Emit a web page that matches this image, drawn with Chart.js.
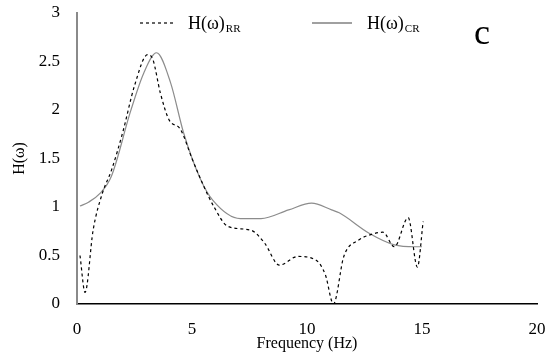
<!DOCTYPE html>
<html><head><meta charset="utf-8">
<script src="https://cdn.jsdelivr.net/npm/chart.js@4.4.0/dist/chart.umd.min.js"></script>
<style>html,body{margin:0;padding:0;background:#fff}#wrap{width:547px;height:360px}</style>
</head><body><div id="wrap"><canvas id="c" width="547" height="360"></canvas></div>
<script>
const freqRR = [0.13, 0.35, 0.7, 1.1, 1.5, 2.0, 2.5, 3.07, 3.3, 3.63, 4.0, 4.5, 5.0, 5.5, 5.96, 6.56, 7.57, 8.15, 8.8, 9.6, 10.4, 10.8, 11.15, 11.6, 12.25, 12.7, 13.3, 13.8, 14.4, 14.8, 15.05];
const valRR  = [0.50, 0.12, 0.76, 1.14, 1.38, 1.78, 2.25, 2.57, 2.52, 2.17, 1.90, 1.80, 1.50, 1.22, 1.00, 0.80, 0.76, 0.63, 0.40, 0.49, 0.45, 0.30, 0.00, 0.49, 0.66, 0.71, 0.74, 0.59, 0.89, 0.38, 0.85];
const freqCR = [0.13, 0.5, 1.0, 1.5, 2.32, 2.9, 3.46, 4.07, 4.64, 5.38, 5.9, 7.1, 8.0, 9.2, 10.2, 11.07, 11.4, 12.7, 13.8, 14.7, 15.0];
const valCR  = [1.01, 1.05, 1.14, 1.32, 1.98, 2.38, 2.59, 2.28, 1.76, 1.28, 1.07, 0.88, 0.88, 0.97, 1.04, 0.97, 0.94, 0.73, 0.61, 0.59, 0.59];
const xTicks = [0, 5, 10, 15, 20];
const yTicks = [0, 0.5, 1, 1.5, 2, 2.5, 3];
const seriesNames = ['H(ω)', 'H(ω)'];
const seriesSubs = ['RR', 'CR'];
const panelLabel = 'c';
const xTitle = 'Frequency (Hz)';
const yTitle = 'H(ω)';

const FONT = "'Liberation Serif', 'Times New Roman', serif";

const legendPlugin = {
  id: 'customLegend',
  afterDraw(chart) {
    const ctx = chart.ctx;
    ctx.save();
    const items = [
      {x1: 140, x2: 174, tx: 188, dash: [3, 3], color: '#000', w: 1.2},
      {x1: 312, x2: 352, tx: 367, dash: [], color: '#a0a0a0', w: 2}
    ];
    items.forEach((it, i) => {
      ctx.beginPath();
      ctx.setLineDash(it.dash);
      ctx.strokeStyle = it.color;
      ctx.lineWidth = it.w;
      ctx.moveTo(it.x1, 23);
      ctx.lineTo(it.x2, 23);
      ctx.stroke();
      ctx.setLineDash([]);
      ctx.fillStyle = '#000';
      ctx.textBaseline = 'alphabetic';
      ctx.textAlign = 'left';
      ctx.font = '18px ' + FONT;
      ctx.fillText(seriesNames[i], it.tx, 29);
      const w = ctx.measureText(seriesNames[i]).width;
      ctx.font = '11px ' + FONT;
      ctx.fillText(seriesSubs[i], it.tx + w + 1, 32);
    });
    ctx.font = '36px ' + FONT;
    ctx.fillText(panelLabel, 474, 44);
    ctx.restore();
  }
};

new Chart(document.getElementById('c'), {
  type: 'line',
  data: {
    datasets: [
      {
        label: seriesNames[0] + seriesSubs[0],
        data: freqRR.map((x, i) => ({x: x, y: valRR[i]})),
        borderColor: '#000', borderWidth: 1.2, borderDash: [3, 3],
        pointRadius: 0, cubicInterpolationMode: 'monotone', fill: false
      },
      {
        label: seriesNames[1] + seriesSubs[1],
        data: freqCR.map((x, i) => ({x: x, y: valCR[i]})),
        borderColor: '#8c8c8c', borderWidth: 1.2,
        pointRadius: 0, cubicInterpolationMode: 'monotone', fill: false
      }
    ]
  },
  options: {
    responsive: false, animation: false,
    layout: {padding: {left: 0, right: 10, top: 13, bottom: 0}},
    plugins: {legend: {display: false}, tooltip: {enabled: false}},
    scales: {
      x: {
        type: 'linear', min: 0, max: 20,
        afterBuildTicks: s => { s.ticks = xTicks.map(v => ({value: v})); },
        afterFit: s => { s.height = 56; s.paddingLeft = 0; s.paddingRight = 0; },
        grid: {display: true, drawOnChartArea: false, drawTicks: true, tickLength: 15, color: 'rgba(0,0,0,0)', tickColor: 'rgba(0,0,0,0)'},
        border: {display: true, color: '#000', width: 1.5},
        ticks: {color: '#000', padding: 0, font: {family: FONT, size: 17}, callback: v => String(v)},
        title: {display: true, text: xTitle, color: '#000', font: {family: FONT, size: 16}, padding: {top: 0, bottom: 7}}
      },
      y: {
        min: 0, max: 3,
        afterBuildTicks: s => { s.ticks = yTicks.map(v => ({value: v})); },
        afterFit: s => { s.width = 77; s.paddingTop = 0; s.paddingBottom = 0; },
        grid: {display: true, drawOnChartArea: false, drawTicks: true, tickLength: 17, color: 'rgba(0,0,0,0)', tickColor: 'rgba(0,0,0,0)'},
        border: {display: true, color: '#8a8a8a', width: 2},
        ticks: {color: '#000', padding: 0, font: {family: FONT, size: 17}, callback: v => String(v)},
        title: {display: true, text: yTitle, color: '#000', font: {family: FONT, size: 16}, padding: {top: 10, bottom: 2}}
      }
    }
  },
  plugins: [legendPlugin]
});
</script></body></html>
